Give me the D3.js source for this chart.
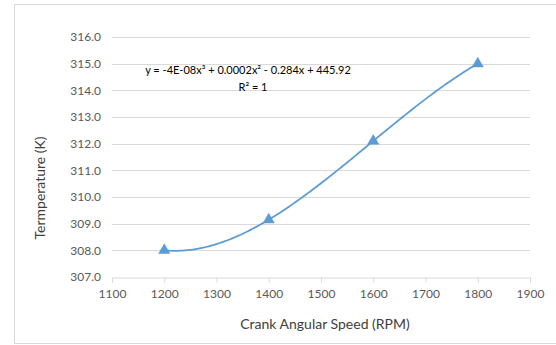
<!DOCTYPE html>
<html>
<head>
<meta charset="utf-8">
<script src="https://cdn.jsdelivr.net/npm/d3@7"></script>
<style>
  html, body { margin: 0; padding: 0; background: #fff; }
  svg { display: block; font-family: Lato, "Open Sans", sans-serif; }
</style>
</head>
<body>
<svg id="chart" width="556" height="345"></svg>
<script>
// Crank speed vs temperature measurements
const speeds = [1200, 1400, 1600, 1800];
const temps = [308.0, 309.15, 312.1, 315.0];
const xTicks = [1100, 1200, 1300, 1400, 1500, 1600, 1700, 1800, 1900];
const yTicks = [307, 308, 309, 310, 311, 312, 313, 314, 315, 316];
const equationText = "y = -4E-08x³ + 0.0002x² - 0.284x + 445.92";
const r2Text = "R² = 1";

const svg = d3.select("#chart");
const margin = { left: 112, right: 26, top: 37, bottom: 68 };
const W = 556, H = 345;

const x = d3.scaleLinear().domain([1100, 1900]).range([margin.left, W - margin.right]);
const y = d3.scaleLinear().domain([307, 316]).range([H - margin.bottom, margin.top]);

// chart frame
svg.append("rect")
  .attr("x", 14.5).attr("y", 4.5)
  .attr("width", 560).attr("height", 339)
  .attr("fill", "#fff").attr("stroke", "#D9D9D9").attr("stroke-width", 1);

// horizontal gridlines
svg.append("g")
  .selectAll("line")
  .data(yTicks.slice(1))
  .join("line")
  .attr("x1", x(1100)).attr("x2", x(1900))
  .attr("y1", d => Math.round(y(d)) + 0.5).attr("y2", d => Math.round(y(d)) + 0.5)
  .attr("stroke", "#D9D9D9").attr("stroke-width", 1);

// x axis
const xAxis = svg.append("g")
  .attr("transform", `translate(0,${Math.round(y(307)) + 0.5})`)
  .call(d3.axisBottom(x).tickValues(xTicks).tickFormat(d3.format("d")).tickSizeOuter(0).tickSize(5).tickPadding(7));
xAxis.select(".domain").attr("stroke", "#D9D9D9");
xAxis.selectAll(".tick line").attr("stroke", "#D9D9D9");
xAxis.selectAll(".tick text").attr("fill", "#595959").attr("font-size", 12).attr("font-family", "Lato, sans-serif");

// y axis labels (no axis line)
const yAxis = svg.append("g")
  .attr("transform", `translate(${x(1100)},0)`)
  .call(d3.axisLeft(y).tickValues(yTicks).tickFormat(d3.format(".1f")).tickSize(0).tickPadding(11));
yAxis.select(".domain").remove();
yAxis.selectAll(".tick text").attr("fill", "#595959").attr("font-size", 12).attr("font-family", "Lato, sans-serif");

// cubic trendline through the points (Lagrange interpolation, R² = 1)
function cubic(v) {
  let s = 0;
  for (let i = 0; i < speeds.length; i++) {
    let term = temps[i];
    for (let j = 0; j < speeds.length; j++) {
      if (j !== i) term *= (v - speeds[j]) / (speeds[i] - speeds[j]);
    }
    s += term;
  }
  return s;
}
const trend = d3.range(1200, 1800.01, 5).map(v => [v, cubic(v)]);
svg.append("path")
  .datum(trend)
  .attr("fill", "none")
  .attr("stroke", "#5B9BD5")
  .attr("stroke-width", 1.75)
  .attr("d", d3.line().x(d => x(d[0])).y(d => y(d[1])));

// triangle markers
const tri = d3.symbol().type(d3.symbolTriangle).size(55);
svg.append("g")
  .selectAll("path")
  .data(speeds.map((s, i) => [s, temps[i]]))
  .join("path")
  .attr("d", tri)
  .attr("transform", d => `translate(${x(d[0])},${y(d[1])})`)
  .attr("fill", "#5B9BD5")
  .attr("stroke", "#5B9BD5")
  .attr("stroke-width", 0.5);

// trendline equation
svg.append("text")
  .attr("x", 248).attr("y", 74)
  .attr("text-anchor", "middle")
  .attr("font-size", 11).attr("fill", "#000")
  .text(equationText);
svg.append("text")
  .attr("x", 253).attr("y", 91)
  .attr("text-anchor", "middle")
  .attr("font-size", 11).attr("fill", "#000")
  .text(r2Text);

// axis titles
svg.append("text")
  .attr("x", 325).attr("y", 329)
  .attr("text-anchor", "middle")
  .attr("font-size", 14).attr("fill", "#404040")
  .text("Crank Angular Speed (RPM)");
svg.append("text")
  .attr("transform", "translate(45,188) rotate(-90)")
  .attr("text-anchor", "middle")
  .attr("font-size", 14).attr("fill", "#404040")
  .text("Termperature (K)");
</script>
</body>
</html>
